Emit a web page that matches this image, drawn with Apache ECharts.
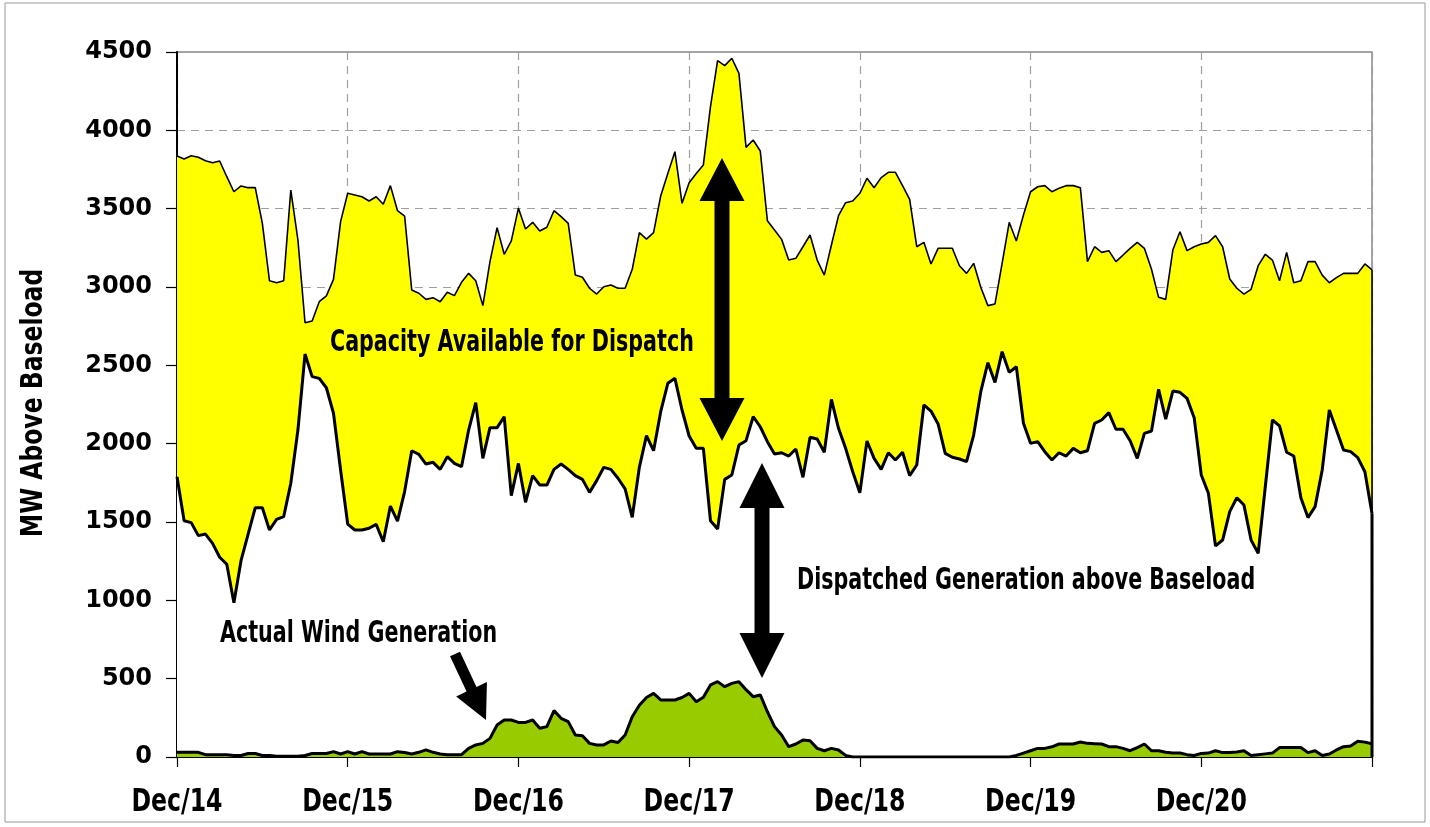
<!DOCTYPE html>
<html><head><meta charset="utf-8">
<script src="https://cdn.jsdelivr.net/npm/echarts@6/dist/echarts.min.js"></script>
<style>html,body{margin:0;padding:0;background:#fff}#chart{width:1430px;height:827px}</style>
</head><body>
<div id="chart"></div>
<script>
// hourly values, Dec/14 00:00 .. Dec/21 00:00 (169 points)
var dayLabels = ['Dec/14', 'Dec/15', 'Dec/16', 'Dec/17', 'Dec/18', 'Dec/19', 'Dec/20'];

// capacity available (top of the yellow band)
var upper = [
  3836,3817,3838,3828,3806,3793,3804,3704,3608,3645,3634,3634,3406,3040,3027,3040,3619,3300,2772,2783,2906,2943,3049,3417,
  3598,3587,3576,3549,3576,3528,3647,3487,3453,2981,2960,2921,2932,2906,2966,2945,3030,3087,3040,2881,3162,3379,3209,3294,
  3503,3370,3413,3357,3381,3487,3449,3406,3076,3062,2992,2955,3002,3013,2992,2992,3113,3347,3306,3347,3581,3725,3864,3534,
  3666,3725,3779,4151,4445,4413,4460,4364,3891,3938,3868,3423,3364,3304,3172,3183,3257,3332,3172,3076,3268,3455,3538,3549,
  3598,3694,3634,3698,3732,3732,3647,3560,3257,3285,3147,3247,3247,3247,3136,3087,3151,2998,2881,2892,3151,3413,3294,3460,
  3608,3640,3647,3608,3630,3647,3647,3634,3162,3257,3221,3232,3162,3204,3247,3285,3247,3113,2934,2921,3236,3353,3232,3257,
  3274,3285,3328,3257,3051,2992,2955,2985,3136,3209,3172,3040,3221,3027,3040,3162,3162,3076,3027,3060,3087,3087,3087,3147,3109
];

// dispatched generation above baseload
var dispatched = [
  1789,1508,1496,1413,1423,1364,1275,1230,985,1253,1423,1591,1591,1449,1517,1534,1747,2087,2572,2428,2417,2357,2194,1832,
  1487,1449,1449,1460,1485,1374,1602,1506,1694,1955,1932,1870,1881,1836,1917,1874,1853,2087,2262,1906,2102,2102,2172,1668,
  1874,1626,1796,1736,1736,1836,1870,1836,1796,1772,1689,1764,1849,1836,1779,1711,1530,1849,2051,1955,2204,2385,2417,2215,
  2049,1970,1970,1508,1455,1772,1800,1991,2019,2172,2108,2013,1934,1942,1921,1966,1785,2041,2030,1945,2283,2098,1970,1821,
  1687,2017,1906,1836,1942,1896,1945,1796,1864,2247,2208,2126,1938,1913,1902,1885,2055,2332,2517,2391,2587,2455,2491,2130,
  2002,2013,1949,1896,1942,1921,1970,1942,1955,2130,2151,2198,2092,2092,2019,1906,2066,2081,2347,2157,2336,2328,2289,2166,
  1800,1683,1347,1385,1566,1655,1608,1385,1300,1725,2151,2113,1945,1921,1655,1528,1598,1832,2215,2087,1960,1949,1911,1821,1555
];

// actual wind generation
var wind = [
  30,30,30,30,15,15,15,15,10,10,22,22,10,10,5,5,5,5,10,22,22,22,34,19,
  34,19,34,19,19,19,19,34,29,19,30,45,30,19,15,15,15,55,77,87,119,204,236,236,
  221,221,236,183,194,296,247,226,140,136,87,77,77,102,92,140,257,330,380,406,364,364,364,380,
  406,353,381,460,481,449,470,481,430,385,396,289,194,140,66,83,108,104,55,40,55,45,10,0,
  0,0,0,0,0,0,0,0,0,0,0,0,0,0,0,0,0,0,0,0,0,0,10,25,
  40,55,55,65,83,83,83,96,87,85,83,66,66,55,40,60,83,40,40,30,25,25,15,10,
  23,25,40,28,28,32,40,10,15,20,25,60,60,60,60,28,40,10,19,45,66,70,100,95,85
];

var narrow = "'Liberation Sans Narrow','Arial Narrow','DejaVu Sans Condensed',sans-serif";
var last = upper.length - 1;

function pairs(arr) { return arr.map(function (v, i) { return [i, v]; }); }

// arrow outline, tip at (x2,y2); both = head on both ends
function arrow(x1, y1, x2, y2, sw, hl, hw, both) {
  var dx = x2 - x1, dy = y2 - y1, L = Math.hypot(dx, dy);
  var ux = dx / L, uy = dy / L, px = -uy, py = ux;
  function P(a, b) { return [x1 + ux * a + px * b, y1 + uy * a + py * b]; }
  var pts = [];
  if (both) pts.push(P(0, 0), P(hl, hw / 2), P(hl, sw / 2)); else pts.push(P(0, sw / 2));
  pts.push(P(L - hl, sw / 2), P(L - hl, hw / 2), P(L, 0), P(L - hl, -hw / 2), P(L - hl, -sw / 2));
  if (both) pts.push(P(hl, -sw / 2), P(hl, -hw / 2)); else pts.push(P(0, -sw / 2));
  return { type: 'polygon', shape: { points: pts }, style: { fill: '#000' }, z: 100 };
}

// condensed bold text (squeezed horizontally, the narrow face is not installed)
function label(text, x, y, size, sx, align) {
  return { type: 'text', x: x, y: y, z: 100, scaleX: sx,
    style: { text: text, font: 'bold ' + size + 'px ' + narrow, fill: '#000', align: align || 'left', verticalAlign: 'middle' } };
}

var chart = echarts.init(document.getElementById('chart'));
chart.setOption({
  animation: false,
  backgroundColor: '#fff',
  grid: { left: 177, right: 58, top: 52, bottom: 70, show: true, borderColor: '#888', borderWidth: 1.5 },
  xAxis: {
    type: 'value', min: 0, max: last, interval: 24,
    axisLine: { onZero: false, lineStyle: { color: '#000', width: 2 } },
    axisTick: { show: true, length: 10, lineStyle: { color: '#000', width: 1.2 } },
    axisLabel: { show: false },
    splitLine: { show: true, lineStyle: { color: '#a0a0a0', width: 1.2, type: [8, 6] } }
  },
  yAxis: {
    type: 'value', min: 0, max: 4500, interval: 500,
    axisLine: { show: true, lineStyle: { color: '#000', width: 2 } },
    axisTick: { show: true, length: 11, lineStyle: { color: '#000', width: 1.2 } },
    axisLabel: { margin: 25, color: '#000', fontFamily: "'DejaVu Sans',sans-serif", fontWeight: 'bold', fontSize: 24,
      formatter: function (v) { return String(v); } },
    splitLine: { show: true, lineStyle: { color: '#a0a0a0', width: 1.2, type: [8, 6] } }
  },
  series: [
    { name: 'Capacity Available for Dispatch', type: 'line', data: pairs(upper), symbol: 'none', z: 2,
      lineStyle: { color: '#000', width: 1.6 }, areaStyle: { color: '#ffff00', opacity: 1, origin: 'start' } },
    { name: 'Dispatched Generation above Baseload', type: 'line', data: pairs(dispatched), symbol: 'none', z: 3,
      lineStyle: { color: '#000', width: 3 }, areaStyle: { color: '#fff', opacity: 1, origin: 'start' } },
    { name: 'Actual Wind Generation', type: 'line', data: pairs(wind), symbol: 'none', z: 4,
      lineStyle: { color: '#000', width: 3 }, areaStyle: { color: '#99cc00', opacity: 1, origin: 'start' } },
    // right-hand edges of the filled areas
    { type: 'line', data: [[last, dispatched[last]], [last, upper[last]]], symbol: 'none', z: 5,
      lineStyle: { color: '#000', width: 1.6 } },
    { type: 'line', data: [[last, 0], [last, dispatched[last]]], symbol: 'none', z: 5,
      lineStyle: { color: '#000', width: 3 } }
  ]
});

var graphics = [
  { type: 'rect', shape: { x: 5, y: 3, width: 1420, height: 819 }, style: { fill: 'none', stroke: '#999', lineWidth: 1 }, z: 0, silent: true },
  { type: 'text', x: 34, y: 403, rotation: Math.PI / 2, scaleX: 0.87, z: 100,
    style: { text: 'MW Above Baseload', font: 'bold 30px ' + narrow, fill: '#000', align: 'center', verticalAlign: 'middle' } },
  label('Capacity Available for Dispatch', 330, 343, 30, 0.765),
  label('Dispatched Generation above Baseload', 797, 581, 30, 0.765),
  label('Actual Wind Generation', 220, 634, 30, 0.765),
  arrow(722, 158, 722, 441, 15, 43, 45, true),
  arrow(762, 463, 762, 678, 15, 45, 45, true),
  arrow(455, 654, 486, 720, 11, 34, 34, false)
];
// day labels under the x axis, placed through the axis scale
dayLabels.forEach(function (d, i) {
  var p = chart.convertToPixel({ gridIndex: 0 }, [i * 24, 0]);
  graphics.push(label(d, p[0], p[1] + 46, 32, 0.82, 'center'));
});
chart.setOption({ graphic: graphics });
</script>
</body></html>
